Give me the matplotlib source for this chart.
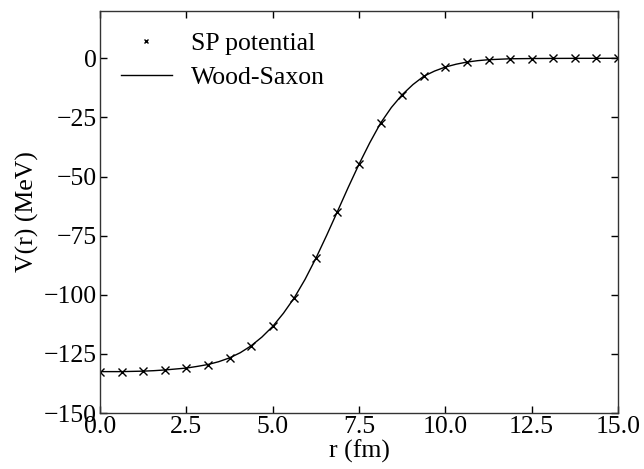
import matplotlib
matplotlib.use("Agg")
import matplotlib.pyplot as plt

# SP potential (markers)
r_sp = [0.0, 0.625, 1.25, 1.875, 2.5, 3.125, 3.75, 4.375, 5.0, 5.625, 6.25, 6.875,
        7.5, 8.125, 8.75, 9.375, 10.0, 10.625, 11.25, 11.875, 12.5, 13.125, 13.75,
        14.375, 15.0]
v_sp = [-132.5, -132.5, -132.3, -131.8, -131.0, -129.5, -126.7, -121.6, -113.4,
        -101.3, -84.6, -64.8, -44.8, -27.4, -15.4, -7.6, -3.7, -1.6, -0.6, -0.2,
        -0.1, -0.05, -0.02, -0.01, 0.0]

# Wood-Saxon curve
r_ws = [0.0, 0.3125, 0.625, 0.9375, 1.25, 1.5625, 1.875, 2.1875, 2.5, 2.8125,
        3.125, 3.4375, 3.75, 4.0625, 4.375, 4.6875, 5.0, 5.3125, 5.625, 5.9375,
        6.25, 6.5625, 6.875, 7.1875, 7.5, 7.8125, 8.125, 8.4375, 8.75, 9.0625,
        9.375, 9.6875, 10.0, 10.3125, 10.625, 10.9375, 11.25, 11.5625, 11.875,
        12.1875, 12.5, 13.125, 13.75, 14.375, 15.0]
v_ws = [-132.5, -132.5, -132.5, -132.4, -132.3, -132.1, -131.8, -131.4, -131.0,
        -130.3, -129.5, -128.3, -126.7, -124.5, -121.6, -117.9, -113.4, -107.8,
        -101.3, -93.5, -84.6, -74.9, -64.8, -54.6, -44.8, -35.7, -27.4, -20.8,
        -15.4, -11.1, -7.6, -5.4, -3.7, -2.5, -1.6, -1.0, -0.6, -0.4, -0.2,
        -0.15, -0.1, -0.05, -0.02, -0.01, 0.0]

x_ticks = [0.0, 2.5, 5.0, 7.5, 10.0, 12.5, 15.0]
y_ticks = [-150, -125, -100, -75, -50, -25, 0]

FS = 18.5
plt.rcParams['font.family'] = ['Liberation Serif', 'DejaVu Serif']
plt.rcParams['font.size'] = FS

fig = plt.figure(figsize=(6.44, 4.69), dpi=100)
ax = fig.add_axes([100/644, 1 - 413/469, 518/644, 402/469])

ax.plot(r_sp, v_sp, linestyle='none', marker='x', color='black',
        markersize=6, markeredgewidth=1.0, label='SP potential')
ax.plot(r_ws, v_ws, color='black', linewidth=1.0, label='Wood-Saxon')

ax.set_xlim(0, 15)
ax.set_ylim(-150, 20)
ax.set_xticks(x_ticks)
ax.set_yticks(y_ticks)
ax.set_xticklabels([f"{t:.1f}" for t in x_ticks])
ax.set_yticklabels([f"{t}".replace('-', '\u2212') for t in y_ticks])
ax.tick_params(direction='in', top=True, right=True, length=5, width=1,
               labelsize=FS, pad=2)
for s in ax.spines.values():
    s.set_linewidth(1.0)
    s.set_color('#333333')

ax.set_xlabel('r (fm)', fontsize=FS, labelpad=1)
ax.set_ylabel('V(r) (MeV)', fontsize=FS, labelpad=4)

ax.legend(loc='upper left', frameon=False, markerscale=0.6, fontsize=FS,
          handlelength=2.0, borderaxespad=0.4, labelspacing=0.45,
          handletextpad=0.75)

fig.savefig('out.png', dpi=100)
